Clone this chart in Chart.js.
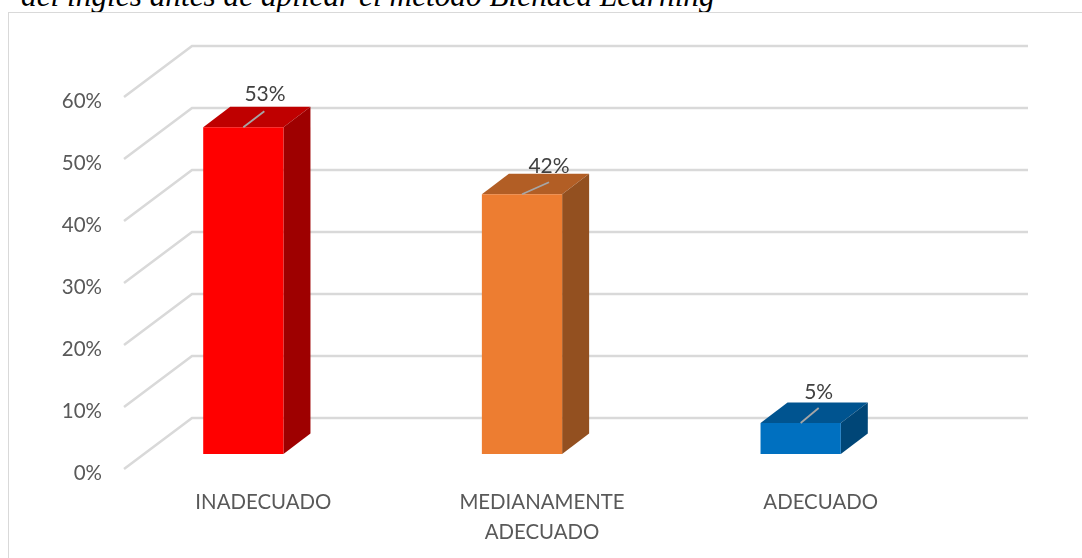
<!DOCTYPE html>
<html><head><meta charset="utf-8">
<style>
html,body{margin:0;padding:0;background:#fff;overflow:hidden;width:1082px;height:558px}
#t{position:absolute;left:21px;top:-22px;font:italic 31.3px "Liberation Serif",serif;color:#000;white-space:nowrap}
#frame{position:absolute;left:8px;top:12px;width:1080px;height:560px;border:1.5px solid #d9d9d9;box-sizing:border-box}
#c{position:absolute;left:0;top:0}
</style></head><body>
<div id="t">del inglés antes de aplicar el método Blended Learning</div>
<div id="frame"></div>
<canvas id="c" width="1082" height="558"></canvas>
<script src="https://cdn.jsdelivr.net/npm/chart.js@4/dist/chart.umd.min.js"></script>
<script>
const categories=[["INADECUADO"],["MEDIANAMENTE","ADECUADO"],["ADECUADO"]];
const values=[52.7,41.9,5.0];
const frontColors=["#ff0000","#ed7d31","#0070c0"];
const topColors=["#bf0000","#b25e25","#005490"];
const sideColors=["#9e0000","#935020","#004677"];
const yTicks=[0,10,20,30,40,50,60];
const FONT='Lato,"Open Sans",sans-serif';
const DX=27,DY=20.5, SHIFTX=-20,SHIFTY=-15, WALLX=68,WALLY=51;
const labelOff=[[21.7,-33.2],[27,-28],[18,-31]], leader=[[21,-16],[27,-12],[18,-15]];
const depth={id:'depth',
 beforeDatasetsDraw(ch){
  const {ctx,scales:{x,y}}=ch;
  ctx.save();ctx.strokeStyle='#d9d9d9';ctx.lineWidth=2.5;ctx.lineCap='butt';
  yTicks.forEach(v=>{
    const py=y.getPixelForValue(v);
    ctx.beginPath();ctx.moveTo(x.left,py);ctx.lineTo(x.left+WALLX,py-WALLY);ctx.lineTo(x.right+WALLX,py-WALLY);ctx.stroke();
  });
  ctx.restore();
  ctx.save();ctx.translate(SHIFTX,SHIFTY);
  ch.getDatasetMeta(0).data.forEach((b,i)=>{
    const l=b.x-b.width/2,r=b.x+b.width/2,t=b.y,bo=b.base;
    ctx.fillStyle=topColors[i];ctx.beginPath();ctx.moveTo(l,t);ctx.lineTo(l+DX,t-DY);ctx.lineTo(r+DX,t-DY);ctx.lineTo(r,t);ctx.closePath();ctx.fill();
    ctx.fillStyle=sideColors[i];ctx.beginPath();ctx.moveTo(r,t);ctx.lineTo(r+DX,t-DY);ctx.lineTo(r+DX,bo-DY);ctx.lineTo(r,bo);ctx.closePath();ctx.fill();
  });
  ctx.restore();
  ctx.save();ctx.translate(SHIFTX,SHIFTY);
 },
 afterDatasetsDraw(ch){
  const {ctx}=ch;
  ctx.restore();
  ctx.save();ctx.translate(SHIFTX,SHIFTY);
  ch.getDatasetMeta(0).data.forEach((b,i)=>{
    ctx.strokeStyle='#a6a6a6';ctx.lineWidth=1.75;
    ctx.beginPath();ctx.moveTo(b.x,b.y);ctx.lineTo(b.x+leader[i][0],b.y+leader[i][1]);ctx.stroke();
    ctx.fillStyle='#404040';ctx.font='21px '+FONT;ctx.textAlign='center';ctx.textBaseline='middle';
    ctx.fillText(Math.round(values[i])+'%',b.x+labelOff[i][0],b.y+labelOff[i][1]);
  });
  ctx.restore();
 }};
new Chart(document.getElementById('c'),{
 type:'bar',
 data:{labels:categories,datasets:[{data:values,backgroundColor:frontColors,borderWidth:0,barPercentage:0.288,categoryPercentage:1}]},
 plugins:[depth],
 options:{responsive:false,animation:false,
  layout:{padding:{left:0,right:122,top:97,bottom:0}},
  plugins:{legend:{display:false},tooltip:{enabled:false}},
  scales:{
   x:{afterFit(s){s.height=89;},grid:{display:false},border:{display:false},
      ticks:{color:'#595959',font:{family:FONT,size:20.4,lineHeight:1.47},maxRotation:0,autoSkip:false,padding:10}},
   y:{min:0,max:60,position:'left',afterFit(s){s.width=124;},
      grid:{display:false},border:{display:false},
      ticks:{stepSize:10,color:'#595959',padding:14,labelOffset:4,font:{family:FONT,size:20.5},callback:v=>v+'%'}}
  }}
});
</script></body></html>
